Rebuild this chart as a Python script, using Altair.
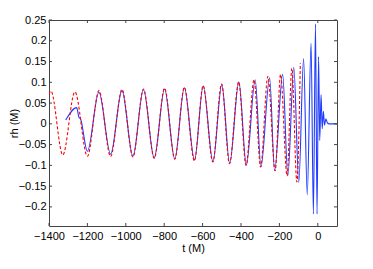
import altair as alt
import pandas as pd

# Numerical-relativity waveform (blue, solid): extrema
blue_t = [-1313, -1256, -1244, -1236, -1200, -1140, -1079, -1020, -963, -908,
          -852, -798, -745, -695, -642, -597, -546, -500, -459, -411,
          -372, -326, -296, -251, -225, -183, -156, -125, -99, -74,
          -55, -35, -23, -12, -4, 4, 10, 17, 23, 29,
          35, 42, 50, 60, 100]
blue_h = [0.009, 0.039, 0.016, 0.012, -0.066, 0.076, -0.073, 0.080, -0.078, 0.082,
          -0.082, 0.084, -0.084, 0.087, -0.087, 0.091, -0.091, 0.095, -0.095, 0.101,
          -0.099, 0.106, -0.103, 0.111, -0.113, 0.119, -0.125, 0.136, -0.141, 0.157,
          -0.171, 0.194, -0.217, 0.240, -0.217, 0.162, -0.040, 0.070, -0.012, 0.030,
          -0.003, 0.012, 0.002, 0.0, 0.0]

# Post-Newtonian waveform (red, dashed)
red_t = [-1400, -1390, -1328, -1265, -1200, -1140, -1079, -1020, -963, -908,
         -852, -798, -745, -695, -643, -597, -547, -501, -460, -412,
         -374, -332, -298, -260, -222, -194, -160, -135, -109, -91]
red_h = [0.071, 0.079, -0.075, 0.077, -0.078, 0.080, -0.079, 0.083, -0.080, 0.084,
         -0.083, 0.086, -0.085, 0.088, -0.089, 0.092, -0.092, 0.096, -0.096, 0.101,
         -0.100, 0.106, -0.104, 0.114, -0.113, 0.119, -0.125, 0.134, -0.140, 0.146]

x_ticks = [-1400, -1200, -1000, -800, -600, -400, -200, 0]
y_ticks = [-0.2, -0.15, -0.1, -0.05, 0, 0.05, 0.1, 0.15, 0.2, 0.25]

W, H = 288, 206

blue_df = pd.DataFrame({"t": blue_t, "h": blue_h})
red_df = pd.DataFrame({"t": red_t, "h": red_h})
xt_df = pd.DataFrame({"t": x_ticks})
yt_df = pd.DataFrame({"h": y_ticks})

xs = alt.Scale(domain=[-1400, 100], nice=False, zero=False)
ys = alt.Scale(domain=[-0.246, 0.25], nice=False, zero=False)

x_axis = alt.Axis(values=x_ticks, format="d", title="t (M)", labelPadding=4,
                  titlePadding=1, labelOverlap=False, labelFlush=False)
y_axis = alt.Axis(values=y_ticks, format=".2~f", title="rh (M)", labelPadding=3,
                  labelOverlap=False, labelFlush=False,
                  titleX=-35, titleY=H / 2, titleBaseline="middle", titleAlign="center",
                  titleAngle=270)

X = alt.X("t:Q", scale=xs, axis=x_axis)
Y = alt.Y("h:Q", scale=ys, axis=y_axis)

blue = alt.Chart(blue_df).mark_line(
    color="#1f3cff", strokeWidth=1.1, interpolate="monotone", clip=True
).encode(x=X, y=Y)

red = alt.Chart(red_df).mark_line(
    color="#ff0000", strokeWidth=1.1, strokeDash=[3, 2], interpolate="monotone", clip=True
).encode(x=X, y=Y)

tick_color = "#444444"
bottom_ticks = alt.Chart(xt_df).mark_rule(color=tick_color, strokeWidth=1).encode(
    x=X, y=alt.value(H), y2=alt.value(H - 3))
top_ticks = alt.Chart(xt_df).mark_rule(color=tick_color, strokeWidth=1).encode(
    x=X, y=alt.value(0), y2=alt.value(3))
left_ticks = alt.Chart(yt_df).mark_rule(color=tick_color, strokeWidth=1).encode(
    y=Y, x=alt.value(0), x2=alt.value(3))
right_ticks = alt.Chart(yt_df).mark_rule(color=tick_color, strokeWidth=1).encode(
    y=Y, x=alt.value(W), x2=alt.value(W - 3))

chart = alt.layer(
    blue, red, bottom_ticks, top_ticks, left_ticks, right_ticks
).properties(
    width=W, height=H,
    autosize=alt.AutoSizeParams(type="none"),
    padding={"left": 41, "top": 12, "right": 20, "bottom": 30},
).configure_view(
    stroke=tick_color, strokeWidth=1
).configure_axis(
    domain=False, ticks=False, grid=False,
    labelFont="Liberation Sans", labelFontSize=11, labelColor="#000000",
    titleFont="Liberation Sans", titleFontSize=11, titleFontWeight="normal", titleColor="#000000",
)

chart.save("out.html", embed_options={"renderer": "svg", "actions": False})
